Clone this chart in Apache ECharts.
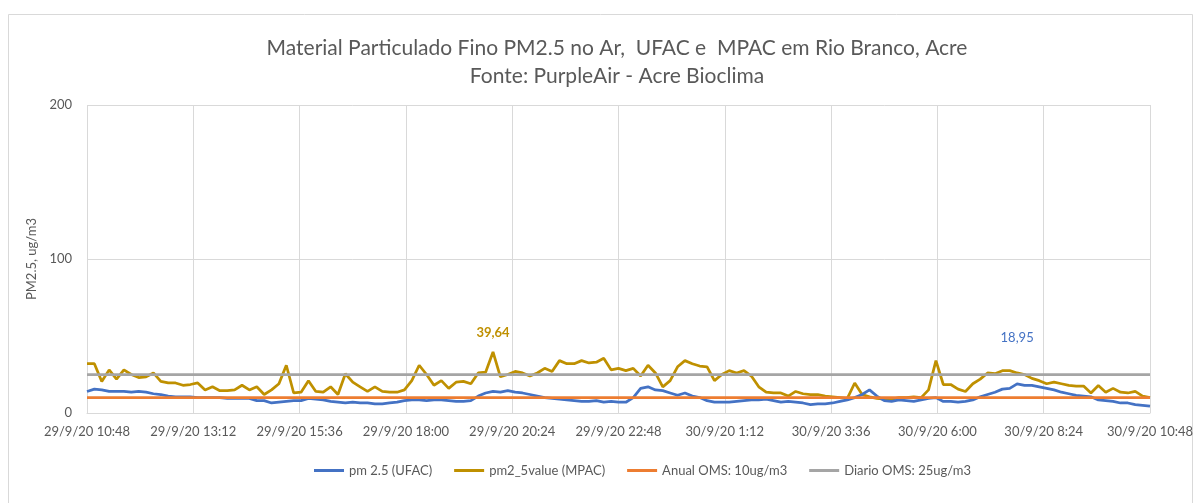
<!DOCTYPE html>
<html>
<head>
<meta charset="utf-8">
<title>PM2.5 Rio Branco</title>
<script src="https://cdn.jsdelivr.net/npm/echarts@6/dist/echarts.min.js"></script>
<style>
  html, body { margin: 0; padding: 0; background: #fff; }
  #chart { width: 1200px; height: 503px; }
</style>
</head>
<body>
<div id="chart"></div>
<script>
// 10-minute readings from 29/9/20 10:48 to 30/9/20 10:48
const stepMinutes = 10

const tickLabels = [
  '29/9/20 10:48', '29/9/20 13:12', '29/9/20 15:36', '29/9/20 18:00',
  '29/9/20 20:24', '29/9/20 22:48', '30/9/20 1:12', '30/9/20 3:36',
  '30/9/20 6:00', '30/9/20 8:24', '30/9/20 10:48'
]

// pm 2.5 (UFAC)
const pmUfac = [
  14, 15.5, 15, 14, 14, 14, 13.5, 14, 13.5, 12.5, 12, 11, 10.5, 10.5, 10.5, 10, 10, 10, 10, 9.5, 9.5, 9.5, 9.5, 8, 8, 6.5, 7, 7.5, 8, 8,
  9.5, 9, 8.5, 7.5, 7, 6.5, 7, 6.5, 6.5, 6, 6, 6.5, 7, 8, 8.5, 8.5, 8, 8.5, 8.5, 8, 7.5, 7.5, 8, 11, 13, 14, 13.5,
  14.5, 13.5, 13, 12, 11, 10, 9.5, 9, 8.5, 8, 7.5, 7.5, 8, 7, 7.5, 7, 7, 10, 16, 17, 15, 14.5, 13, 11.5, 13, 11, 10, 8, 7,
  7, 7, 7.5, 8, 8.5, 8.5, 9, 8, 7, 7.5, 7, 6.5, 5.5, 6, 6, 6.5, 7.5, 8.5, 10, 12, 15, 11, 8, 7.5, 8.5, 8, 7.5, 8.5, 9.5,
  10, 7.5, 7.5, 7, 7.5, 8.5, 10.5, 12, 13.5, 15.5, 16, 18.95, 18, 18, 17, 16, 15, 13.5, 12.5, 11.5, 11, 10.5, 8.5, 8, 7.5, 6.5, 6.5, 5.5, 5, 4.5
]

// pm2_5value (MPAC)
const pmMpac = [
  32, 32, 20.5, 28, 22, 28, 25, 23, 23.5, 26, 20.5, 19.5, 19.5, 18, 18.5, 19.5, 15, 17, 14.5, 14.5, 15, 18, 15, 17, 12, 15, 19, 31, 13, 13.5,
  21, 14, 13.5, 17, 12, 25.5, 20, 17, 14, 17, 14, 13.5, 13.5, 15, 21, 31, 25, 18, 21, 16, 20, 20.5, 19, 26, 26.5, 39.64, 23.5,
  25, 27, 26, 24, 26, 29, 27, 34, 32, 32, 34, 32.5, 33, 35.5, 28, 29, 27.5, 29, 24, 31, 26, 17, 21, 30, 34, 32, 30.5, 30, 21,
  25, 27.5, 26, 27.5, 24, 17, 13.5, 13, 13, 11, 14, 12.5, 12, 12, 11, 10.5, 10, 9.5, 19.5, 12, 10.5, 9.5, 9, 9, 10, 10, 10.5, 10, 15,
  34, 18.5, 18.5, 15.5, 14, 19, 22, 26, 25.5, 27.5, 27.5, 26, 25, 22.5, 21, 19, 20, 19, 18, 17.5, 17.5, 13, 17.8, 13.5, 16, 13.5, 13, 14, 11, 10
]

// limites OMS
const anualOms = 10
const diarioOms = 25

// pontos anotados (indices)
const peakMpacIndex = 55
const peakUfacIndex = 126

const textColor = '#595959'
const gridColor = '#d9d9d9'
const fontFamily = 'Lato, "Open Sans", sans-serif'

const totalMinutes = (pmUfac.length - 1) * stepMinutes
const tickStep = totalMinutes / (tickLabels.length - 1)

const toPairs = arr => arr.map((v, i) => [i * stepMinutes, v])
const flatLine = v => [[0, v], [totalMinutes, v]]

const chart = echarts.init(document.getElementById('chart'))

chart.setOption({
  animation: false,
  backgroundColor: '#fff',
  textStyle: { fontFamily: fontFamily },
  title: {
    text: 'Material Particulado Fino PM2.5 no Ar,  UFAC e  MPAC em Rio Branco, Acre\nFonte: PurpleAir - Acre Bioclima',
    left: 612,
    top: 29,
    textAlign: 'center',
    textStyle: {
      fontFamily: fontFamily,
      fontSize: 21,
      fontWeight: 'normal',
      color: textColor,
      lineHeight: 28
    }
  },
  graphic: [{
    type: 'rect',
    shape: { x: 8.5, y: 14.5, width: 1184, height: 520 },
    style: { fill: 'none', stroke: gridColor, lineWidth: 1 },
    silent: true
  }],
  legend: {
    bottom: 21,
    left: 309,
    icon: 'rect',
    itemWidth: 30,
    itemHeight: 3,
    itemGap: 22,
    textStyle: { color: textColor, fontSize: 13, fontFamily: fontFamily },
    data: ['pm 2.5 (UFAC)', 'pm2_5value (MPAC)', 'Anual OMS: 10ug/m3', 'Diario OMS: 25ug/m3']
  },
  grid: { left: 87, right: 50, top: 105, bottom: 90 },
  xAxis: {
    type: 'value',
    min: 0,
    max: totalMinutes,
    interval: tickStep,
    axisLine: { show: true, lineStyle: { color: gridColor } },
    axisTick: { show: false },
    splitLine: { show: true, lineStyle: { color: gridColor } },
    axisLabel: {
      color: textColor,
      fontSize: 13,
      margin: 12,
      formatter: v => tickLabels[Math.round(v / tickStep)] || ''
    }
  },
  yAxis: {
    type: 'value',
    min: 0,
    max: 200,
    interval: 100,
    name: 'PM2.5, ug/m3',
    nameLocation: 'middle',
    nameGap: 40,
    nameTextStyle: { color: textColor, fontSize: 13 },
    axisLine: { show: false },
    axisTick: { show: false },
    splitLine: { lineStyle: { color: gridColor } },
    axisLabel: { color: textColor, fontSize: 13, margin: 15 }
  },
  series: [
    {
      name: 'pm 2.5 (UFAC)',
      type: 'line',
      data: toPairs(pmUfac),
      showSymbol: false,
      z: 4,
      color: '#4472C4',
      lineStyle: { width: 2.75 },
      markPoint: {
        symbol: 'circle',
        symbolSize: 0,
        label: {
          show: true,
          position: 'top',
          distance: 40,
          color: '#4472C4',
          fontSize: 13,
          formatter: p => String(p.value).replace('.', ',')
        },
        data: [{ coord: [peakUfacIndex * stepMinutes, pmUfac[peakUfacIndex]], value: pmUfac[peakUfacIndex] }]
      }
    },
    {
      name: 'pm2_5value (MPAC)',
      type: 'line',
      data: toPairs(pmMpac),
      showSymbol: false,
      z: 3,
      color: '#BF9000',
      lineStyle: { width: 2.75 },
      markPoint: {
        symbol: 'circle',
        symbolSize: 0,
        label: {
          show: true,
          position: 'top',
          distance: 13,
          color: '#BF9000',
          fontSize: 13,
          fontWeight: 'bold',
          formatter: p => String(p.value).replace('.', ',')
        },
        data: [{ coord: [peakMpacIndex * stepMinutes, pmMpac[peakMpacIndex]], value: pmMpac[peakMpacIndex] }]
      }
    },
    {
      name: 'Anual OMS: 10ug/m3',
      type: 'line',
      data: flatLine(anualOms),
      showSymbol: false,
      z: 5,
      color: '#ED7D31',
      lineStyle: { width: 2.75 }
    },
    {
      name: 'Diario OMS: 25ug/m3',
      type: 'line',
      data: flatLine(diarioOms),
      showSymbol: false,
      z: 5,
      color: '#A5A5A5',
      lineStyle: { width: 2.75 }
    }
  ]
})
</script>
</body>
</html>
